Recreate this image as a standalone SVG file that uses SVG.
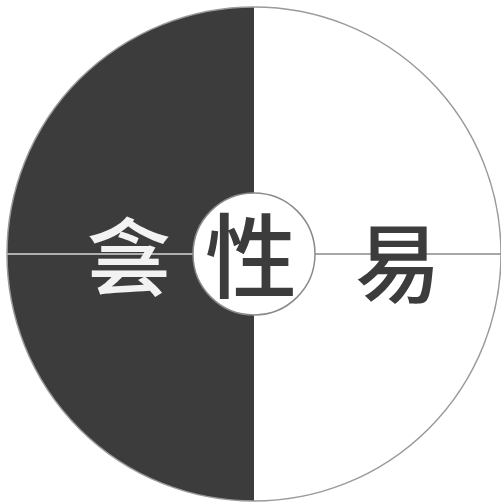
<svg xmlns="http://www.w3.org/2000/svg" width="501" height="504" viewBox="0 0 501 504">
<style>
.ch{font-family:"Noto Sans CJK SC","Noto Sans CJK JP",sans-serif;text-anchor:middle;dominant-baseline:central;font-weight:500;}
</style>
<rect width="501" height="504" fill="#ffffff"/>
<g id="outer">
<path d="M254,7 A247,247 0 0 0 254,501 Z" fill="#3c3c3c"/>
<circle cx="254" cy="254" r="247" fill="none" stroke="#9a9a9a" stroke-width="1.5"/>
</g>
<g id="connectors">
<line x1="7" y1="254" x2="193" y2="254" stroke="#b0b0b0" stroke-width="2"/>
<line x1="315" y1="254" x2="501" y2="254" stroke="#8a8a8a" stroke-width="1.5"/>
</g>
<g id="yin">
<text class="ch" x="129" y="252" font-size="84" fill="#f2f2f2">侌</text>
</g>
<g id="xing">
<circle cx="254" cy="254" r="61" fill="#ffffff" stroke="#8a8a8a" stroke-width="1.5"/>
<text class="ch" x="251" y="250" font-size="92" fill="#3c3c3c">性</text>
</g>
<g id="yang">
<text class="ch" x="398" y="258" font-size="86" fill="#3c3c3c">易</text>
</g>
</svg>
